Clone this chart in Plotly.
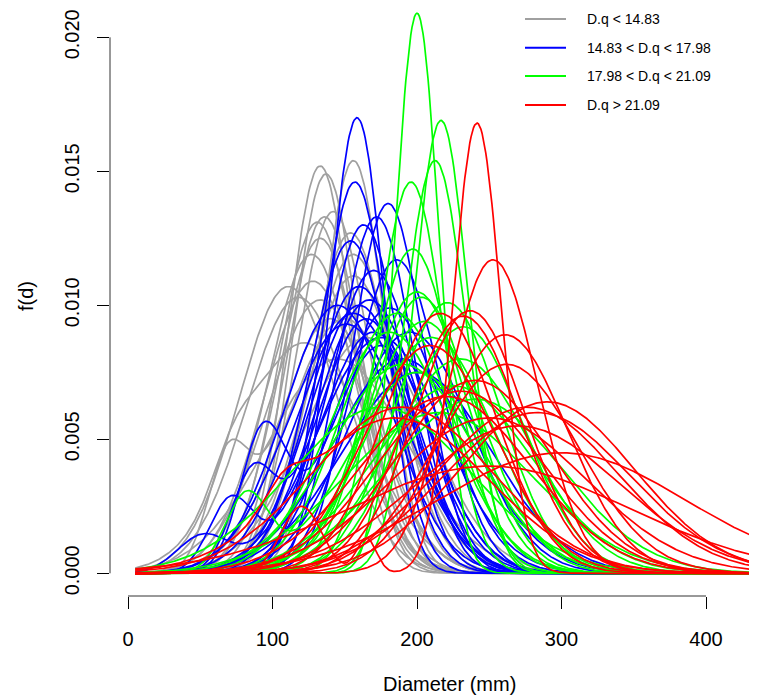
import numpy as np
import plotly.graph_objects as go

# Density curves per diameter class:
# each curve = main mode (mm) + peak height, optional extra bumps (curve, mm, height, spread)
gray_mode = [133, 137, 156, 142, 136, 131, 154, 133, 127, 156, 156, 128, 111, 118, 133, 140, 150, 165, 122, 145]
gray_peak = [0.0152, 0.0149, 0.0154, 0.0135, 0.0133, 0.0131, 0.0127, 0.0125, 0.0119, 0.0119,
             0.0111, 0.0109, 0.0107, 0.0103, 0.0102, 0.0095, 0.0095, 0.0088, 0.0086, 0.0080]
gray_extra = [(15, 69, 0.0038, 14), (18, 72, 0.0012, 14)]

blue_mode = [158.5, 157, 180, 172, 163, 154, 186, 170, 160, 167, 181, 156, 151, 195, 175,
             175, 165, 170, 160, 190, 200, 145]
blue_peak = [0.0170, 0.0146, 0.0138, 0.0133, 0.0130, 0.0124, 0.0117, 0.0113, 0.0107, 0.0102,
             0.0099, 0.0097, 0.0093, 0.0090, 0.0088, 0.0085, 0.0095, 0.0090, 0.0100, 0.0080,
             0.0075, 0.0100]
blue_extra = [(15, 93.5, 0.0050, 16), (16, 86, 0.0034, 15), (17, 71, 0.0026, 15), (18, 52, 0.0014, 18)]

green_mode = [200, 216.6, 212.5, 195.8, 197, 200, 203, 221, 186, 181, 210, 230, 190, 225,
              200, 240, 175, 215, 205, 232]
green_peak = [0.0209, 0.0169, 0.0154, 0.0146, 0.0121, 0.0105, 0.0103, 0.0101, 0.0097, 0.0090,
              0.0088, 0.0080, 0.0078, 0.0070, 0.0075, 0.0065, 0.0062, 0.0060, 0.0094, 0.0092]
green_extra = [(14, 82, 0.0028, 15)]

red_mode = [241.5, 252.6, 236.7, 216, 261, 262, 209, 290, 283, 276, 250, 250, 230, 190,
            185, 300, 270, 240, 220, 232]
red_peak = [0.0168, 0.0117, 0.0098, 0.0097, 0.0089, 0.0078, 0.0085, 0.0064, 0.0060, 0.0062,
            0.0058, 0.0040, 0.0068, 0.0062, 0.0058, 0.0045, 0.0055, 0.0072, 0.0066, 0.0096]
red_extra = [(0, 120, 0.0025, 14), (0, 165, 0.0013, 7), (14, 108, 0.0010, 14)]

groups = [
    ("D.q < 14.83", "#A0A0A0", gray_mode, gray_peak, gray_extra),
    ("14.83 < D.q < 17.98", "#0000FF", blue_mode, blue_peak, blue_extra),
    ("17.98 < D.q < 21.09", "#00FF00", green_mode, green_peak, green_extra),
    ("D.q > 21.09", "#FF0000", red_mode, red_peak, red_extra),
]

d = np.linspace(5, 440, 512)
SQ = np.sqrt(2 * np.pi)


def bump(m, h, s):
    return h * np.exp(-0.5 * ((d - m) / s) ** 2)


fig = go.Figure()
for name, color, modes, peaks, extra in groups:
    for i, (m, h) in enumerate(zip(modes, peaks)):
        f = np.zeros_like(d)
        area = 0.0
        for j, em, eh, es in extra:
            if j == i:
                f += bump(em, eh, es)
                area += eh * es * SQ
        # tall narrow peaks carry less of their mass in the central bump
        k = np.interp(h, [0.008, 0.017], [0.97, 0.80])
        s = (k - area) / (h * SQ)
        f += bump(m, h, s)
        fig.add_trace(go.Scatter(x=d, y=f, mode="lines", line=dict(color=color, width=1.7),
                                 showlegend=False, hoverinfo="skip"))

# page body has an 8px margin, so the figure sits 8px in from the window corner
OFF = 8
W, H = 757 - OFF, 699 - OFF
L = 110 - OFF
B = H - (596 - OFF)
pw, ph = W - L, H - B


def px(x):
    return (x - OFF - L) / pw


def py(y):
    return (ph - (y - OFF)) / ph


shapes = [
    dict(type="line", xref="x", yref="paper", x0=0, x1=400, y0=0, y1=0, line=dict(color="#333", width=1)),
    dict(type="line", xref="paper", yref="y", x0=0, x1=0, y0=0, y1=0.02, line=dict(color="#333", width=1)),
]
annotations = [
    dict(text="Diameter (mm)", x=px(449), y=py(684), xref="paper", yref="paper", showarrow=False,
         xanchor="center", yanchor="middle", font=dict(size=20)),
    dict(text="f(d)", x=px(26), y=py(296), xref="paper", yref="paper", showarrow=False, textangle=-90,
         xanchor="center", yanchor="middle", font=dict(size=20)),
]
# legend drawn like R's legend(bty="n")
for k, (name, color, *_rest) in enumerate(groups):
    ry = [19, 47.7, 76, 105][k]
    shapes.append(dict(type="line", xref="paper", yref="paper", x0=px(525), x1=px(566),
                       y0=py(ry), y1=py(ry), line=dict(color=color, width=2)))
    annotations.append(dict(text=name, x=px(585), y=py(ry), xref="paper", yref="paper", showarrow=False,
                            xanchor="left", yanchor="middle", font=dict(size=14)))

# y: 0 at ref px 573.3, 0.020 at ref px 37.3
ypp = (573.3 - 37.3) / 0.020
xpp = (706 - 128) / 400.0

fig.update_layout(
    width=W, height=H,
    margin=dict(l=L, r=0, t=0, b=B, pad=0),
    plot_bgcolor="white", paper_bgcolor="white",
    font=dict(family="Liberation Sans, Arial, sans-serif", color="black", size=20),
    xaxis=dict(
        range=[(110 - 128) / xpp, (757 - 128) / xpp], showgrid=False, zeroline=False, showline=False,
        ticks="outside", ticklen=12, tickcolor="black",
        tickvals=[0, 100, 200, 300, 400], tickfont=dict(size=20),
        ticklabelstandoff=13, automargin=False,
    ),
    yaxis=dict(
        range=[(573.3 - 596) / ypp, (573.3 - OFF) / ypp], showgrid=False, zeroline=False, showline=False,
        ticks="outside", ticklen=12, tickcolor="black",
        tickvals=[0, 0.005, 0.010, 0.015, 0.020],
        ticktext=["0.000", "0.005", "0.010", "0.015", "0.020"],
        tickangle=-90, tickfont=dict(size=20), ticklabelstandoff=10, automargin=False,
    ),
    shapes=shapes,
    annotations=annotations,
)

fig.write_html("out.html")
